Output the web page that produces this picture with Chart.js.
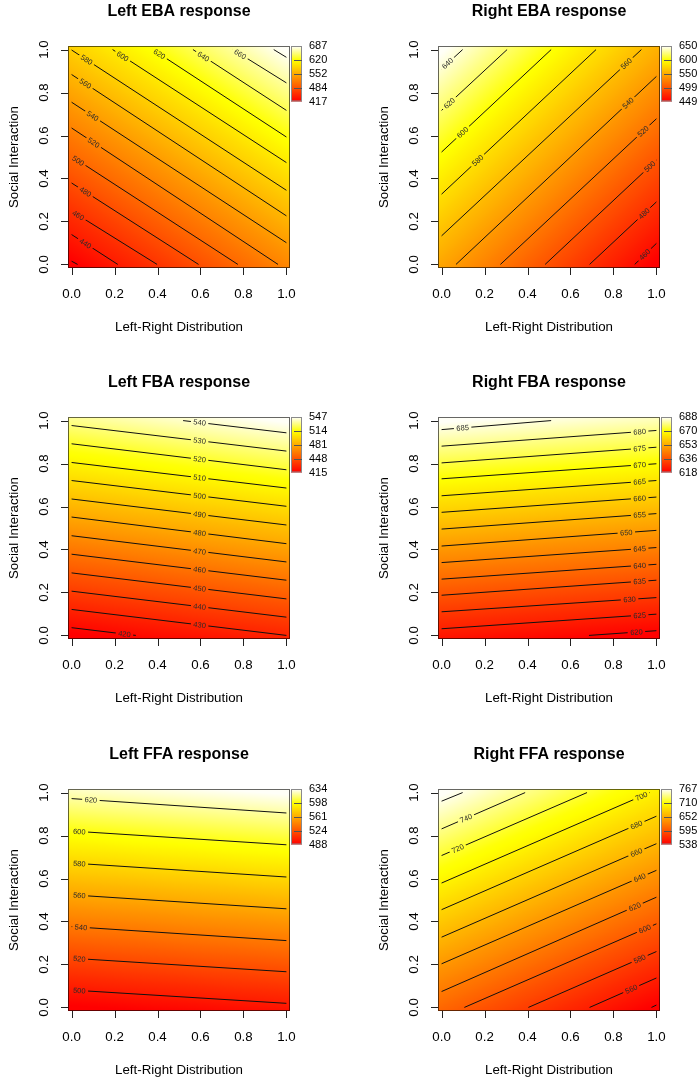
<!DOCTYPE html>
<html>
<head>
<meta charset="utf-8">
<script src="https://cdn.jsdelivr.net/npm/chart.js@4.4.0/dist/chart.umd.min.js"></script>
<style>
  html, body { margin: 0; padding: 0; background: #fff; }
  body { width: 700px; height: 1079px; position: relative; overflow: hidden; }
  canvas { position: absolute; }
</style>
</head>
<body>
<script>
const panelTitles = ['Left EBA response', 'Right EBA response', 'Left FBA response',
                     'Right FBA response', 'Left FFA response', 'Right FFA response']
const xTitle = 'Left-Right Distribution'
const yTitle = 'Social Interaction'
const axisTicks = [0, 0.2, 0.4, 0.6, 0.8, 1]
const axisTickLabels = ['0.0', '0.2', '0.4', '0.6', '0.8', '1.0']

// response at the corners (0,0), (1,0), (0,1), (1,1)
const leftEbaCorners = [417, 524, 580, 687]
const leftEbaKey = [417, 484, 552, 620, 687]
const leftEbaLevels = [420, 440, 460, 480, 500, 520, 540, 560, 580, 600, 620, 640, 660, 680]
// contour segments: x0, y0, x1, y1
const leftEbaLines = [
  [0, 0.015, 0.028, 0], [0, 0.139, 0.215, 0], [0, 0.248, 0.398, 0], [0, 0.379, 0.591, 0],
  [0, 0.503, 0.774, 0], [0, 0.635, 0.961, 0], [0, 0.755, 1, 0.101], [0, 0.884, 1, 0.226],
  [0, 0.998, 1, 0.345], [0.191, 1, 1, 0.474], [0.378, 1, 1, 0.593], [0.565, 1, 1, 0.717],
  [0.751, 1, 1, 0.845], [0.941, 1, 1, 0.964]
]
const leftEbaLabelAt = [null, 0.064, 0.031, 0.064, 0.031, 0.103, 0.098, 0.064, 0.07, 0.238, 0.409, 0.614, 0.785, null]

const rightEbaCorners = [546, 449, 650, 553]
const rightEbaKey = [449, 499, 550, 600, 650]
const rightEbaLevels = [460, 480, 500, 520, 540, 560, 580, 600, 620, 640]
const rightEbaLines = [
  [0.899, 0, 1, 0.098], [0.689, 0, 1, 0.291], [0.482, 0, 1, 0.485], [0.274, 0, 1, 0.678],
  [0.067, 0, 1, 0.875], [0, 0.133, 0.930, 1], [0, 0.327, 0.719, 1], [0, 0.523, 0.510, 1],
  [0, 0.717, 0.305, 1], [0, 0.910, 0.098, 1]
]
const rightEbaLabelAt = [0.946, 0.942, 0.969, 0.938, 0.868, 0.86, 0.168, 0.098, 0.036, 0.028]

const leftFbaCorners = [415, 430, 532, 547]
const leftFbaKey = [415, 448, 481, 514, 547]
const leftFbaLevels = [420, 430, 440, 450, 460, 470, 480, 490, 500, 510, 520, 530, 540]
const leftFbaLines = [
  [0, 0.036, 0.299, 0], [0, 0.121, 1, 0], [0, 0.206, 1, 0.085], [0, 0.291, 1, 0.170],
  [0, 0.378, 1, 0.257], [0, 0.464, 1, 0.342], [0, 0.551, 1, 0.427], [0, 0.635, 1, 0.514],
  [0, 0.721, 1, 0.601], [0, 0.805, 1, 0.686], [0, 0.892, 1, 0.771], [0, 0.977, 1, 0.858],
  [0.519, 1, 1, 0.943]
]
const leftFbaLabelAt = [0.246, 0.596, 0.596, 0.596, 0.596, 0.596, 0.596, 0.596, 0.596, 0.596, 0.596, 0.596, 0.596]

const rightFbaCorners = [623, 618, 688, 683]
const rightFbaKey = [618, 636, 653, 670, 688]
const rightFbaLevels = [620, 625, 630, 635, 640, 645, 650, 655, 660, 665, 670, 675, 680, 685]
const rightFbaLines = [
  [0.686, 0, 1, 0.022], [0, 0.031, 1, 0.099], [0, 0.110, 1, 0.176], [0, 0.187, 1, 0.257],
  [0, 0.262, 1, 0.331], [0, 0.339, 1, 0.409], [0, 0.416, 1, 0.489], [0, 0.495, 1, 0.567],
  [0, 0.573, 1, 0.644], [0, 0.650, 1, 0.721], [0, 0.729, 1, 0.799], [0, 0.803, 1, 0.876],
  [0, 0.881, 1, 0.954], [0, 0.958, 0.51, 1]
]
const rightFbaLabelAt = [0.907, 0.922, 0.875, 0.922, 0.922, 0.922, 0.86, 0.922, 0.922, 0.922, 0.922, 0.922, 0.922, 0.098]

const leftFfaCorners = [488, 498, 624, 634]
const leftFfaKey = [488, 524, 561, 598, 634]
const leftFfaLevels = [500, 520, 540, 560, 580, 600, 620]
const leftFfaLines = [
  [0, 0.081, 1, 0.019], [0, 0.229, 1, 0.166], [0, 0.376, 1, 0.311], [0, 0.524, 1, 0.459],
  [0, 0.672, 1, 0.607], [0, 0.821, 1, 0.757], [0, 0.972, 1, 0.905]
]
const leftFfaLabelAt = [0.036, 0.036, 0.044, 0.036, 0.036, 0.036, 0.09]

const rightFfaCorners = [608, 538, 767, 698]
const rightFfaKey = [538, 595, 652, 710, 767]
const rightFfaLevels = [540, 560, 580, 600, 620, 640, 660, 680, 700, 720, 740, 760]
const rightFfaLines = [
  [0.977, 0, 1, 0.011], [0.689, 0, 1, 0.137], [0.404, 0, 1, 0.260], [0.106, 0, 1, 0.389],
  [0, 0.074, 1, 0.513], [0, 0.203, 1, 0.638], [0, 0.327, 1, 0.762], [0, 0.455, 1, 0.890],
  [0, 0.579, 0.969, 1], [0, 0.707, 0.677, 1], [0, 0.831, 0.389, 1], [0, 0.960, 0.098, 1]
]
const rightFfaLabelAt = [null, 0.883, 0.922, 0.946, 0.899, 0.922, 0.907, 0.907, 0.93, 0.075, 0.114, null]

const fontFamily = '"Liberation Sans", Arial, Helvetica, sans-serif'

const panels = [
  { title: panelTitles[0], corners: leftEbaCorners, key: leftEbaKey, levels: leftEbaLevels, lines: leftEbaLines, labelAt: leftEbaLabelAt, left: 0, top: 0 },
  { title: panelTitles[1], corners: rightEbaCorners, key: rightEbaKey, levels: rightEbaLevels, lines: rightEbaLines, labelAt: rightEbaLabelAt, left: 370, top: 0 },
  { title: panelTitles[2], corners: leftFbaCorners, key: leftFbaKey, levels: leftFbaLevels, lines: leftFbaLines, labelAt: leftFbaLabelAt, left: 0, top: 371 },
  { title: panelTitles[3], corners: rightFbaCorners, key: rightFbaKey, levels: rightFbaLevels, lines: rightFbaLines, labelAt: rightFbaLabelAt, left: 370, top: 371 },
  { title: panelTitles[4], corners: leftFfaCorners, key: leftFfaKey, levels: leftFfaLevels, lines: leftFfaLines, labelAt: leftFfaLabelAt, left: 0, top: 743 },
  { title: panelTitles[5], corners: rightFfaCorners, key: rightFfaKey, levels: rightFfaLevels, lines: rightFfaLines, labelAt: rightFfaLabelAt, left: 370, top: 743 }
]

// same palette as R's heat.colors(n)
function heatColors(n) {
  var j = Math.floor(n / 4), i = n - j, cols = []
  for (var k = 0; k < i; k++) {
    var g = i > 1 ? k / (i - 1) : 0
    cols.push('rgb(255,' + Math.round(g * 255) + ',0)')
  }
  for (var k = 0; k < j; k++) {
    var s = 1 - 1 / (2 * j) - k / j
    cols.push('rgb(255,255,' + Math.round((1 - s) * 255) + ')')
  }
  return cols
}

function addStops(grad, cols) {
  var n = cols.length
  grad.addColorStop(0, cols[0])
  for (var k = 0; k < n; k++) {
    grad.addColorStop((k + 0.5) / n, cols[k])
  }
  grad.addColorStop(1, cols[n - 1])
}

function panelPlugin(p) {
  var cols = heatColors(64)
  var grad = null
  return {
    id: 'panel',
    beforeDatasetsDraw: function (chart) {
      var ctx = chart.ctx, area = chart.chartArea
      var xs = chart.scales.x, ys = chart.scales.y
      var z = p.corners
      var b = ((z[1] - z[0]) + (z[3] - z[2])) / 2
      var c = ((z[2] - z[0]) + (z[3] - z[1])) / 2
      var a = (z[0] + z[1] + z[2] + z[3]) / 4 - b / 2 - c / 2
      var x0 = xs.getPixelForValue(0), y0 = ys.getPixelForValue(0)
      var sx = xs.getPixelForValue(1) - x0, sy = ys.getPixelForValue(1) - y0
      var gx = b / sx, gy = c / sy, g2 = gx * gx + gy * gy
      var zmin = Math.min.apply(null, z), zmax = Math.max.apply(null, z)
      var px0 = x0 + gx * (zmin - a) / g2, py0 = y0 + gy * (zmin - a) / g2
      var px1 = px0 + gx * (zmax - zmin) / g2, py1 = py0 + gy * (zmax - zmin) / g2

      grad = ctx.createLinearGradient(px0, py0, px1, py1)
      addStops(grad, cols)
      ctx.save()
      ctx.fillStyle = grad
      ctx.fillRect(area.left, area.top, area.right - area.left, area.bottom - area.top)

      // colour key
      var kx = area.right + 1, kw = 11, kt = area.top, kb = area.top + 55.5
      var kg = ctx.createLinearGradient(0, kb, 0, kt)
      addStops(kg, cols)
      ctx.fillStyle = kg
      ctx.fillRect(kx, kt, kw, kb - kt)
      ctx.strokeStyle = '#8a8a8a'
      ctx.lineWidth = 1
      ctx.strokeRect(kx + 0.5, kt + 0.5, kw - 1, kb - kt - 1)
      ctx.strokeStyle = '#555'
      ctx.fillStyle = '#000'
      ctx.font = '11px ' + fontFamily
      ctx.textAlign = 'left'
      ctx.textBaseline = 'middle'
      var n = p.key.length
      for (var k = 0; k < n; k++) {
        var ky = kb - k / (n - 1) * (kb - kt)
        if (k > 0 && k < n - 1) {
          ctx.beginPath()
          ctx.moveTo(kx + kw - 8, Math.round(ky) + 0.5)
          ctx.lineTo(kx + kw, Math.round(ky) + 0.5)
          ctx.stroke()
        }
        ctx.fillText(String(p.key[k]), area.right + 19, ky)
      }
      ctx.restore()
    },
    afterDatasetsDraw: function (chart) {
      var ctx = chart.ctx
      var xs = chart.scales.x, ys = chart.scales.y
      ctx.save()
      ctx.font = '7.5px ' + fontFamily
      ctx.textAlign = 'center'
      ctx.textBaseline = 'middle'
      var base = ctx.getTransform()
      for (var i = 0; i < p.levels.length; i++) {
        var at = p.labelAt[i]
        if (at === null) continue
        var s = p.lines[i]
        var t = (at - s[0]) / (s[2] - s[0])
        var px = xs.getPixelForValue(at), py = ys.getPixelForValue(s[1] + t * (s[3] - s[1]))
        var ang = Math.atan2(ys.getPixelForValue(s[3]) - ys.getPixelForValue(s[1]),
                             xs.getPixelForValue(s[2]) - xs.getPixelForValue(s[0]))
        var txt = String(p.levels[i])
        var w = ctx.measureText(txt).width
        ctx.translate(px, py)
        ctx.rotate(ang)
        ctx.beginPath()
        ctx.rect(-w / 2 - 2.5, -4, w + 5, 8)
        ctx.setTransform(base)
        ctx.fillStyle = grad
        ctx.fill()
        ctx.translate(px, py)
        ctx.rotate(ang)
        ctx.fillStyle = '#2a2a2a'
        ctx.fillText(txt, 0, 0.5)
        ctx.setTransform(base)
      }
      ctx.restore()
    },
    afterDraw: function (chart) {
      var ctx = chart.ctx, area = chart.chartArea
      var xs = chart.scales.x, ys = chart.scales.y
      ctx.save()
      ctx.strokeStyle = 'rgba(0,0,0,0.6)'
      ctx.lineWidth = 1
      ctx.strokeRect(area.left + 0.5, area.top + 0.5, area.right - area.left - 1, area.bottom - area.top - 1)

      ctx.strokeStyle = '#222'
      ctx.fillStyle = '#000'
      ctx.font = '13.3px ' + fontFamily
      for (var i = 0; i < axisTicks.length; i++) {
        var tx = Math.round(xs.getPixelForValue(axisTicks[i])) + 0.5
        ctx.beginPath()
        ctx.moveTo(tx, area.bottom)
        ctx.lineTo(tx, area.bottom + 7)
        ctx.stroke()
        ctx.textAlign = 'center'
        ctx.textBaseline = 'alphabetic'
        ctx.fillText(axisTickLabels[i], xs.getPixelForValue(axisTicks[i]), area.bottom + 30)

        var ty = Math.round(ys.getPixelForValue(axisTicks[i])) + 0.5
        ctx.beginPath()
        ctx.moveTo(area.left, ty)
        ctx.lineTo(area.left - 7, ty)
        ctx.stroke()
        ctx.save()
        ctx.translate(area.left - 20.5, ys.getPixelForValue(axisTicks[i]))
        ctx.rotate(-Math.PI / 2)
        ctx.fillText(axisTickLabels[i], 0, 0)
        ctx.restore()
      }

      var cx = (area.left + area.right) / 2, cy = (area.top + area.bottom) / 2
      ctx.textAlign = 'center'
      ctx.textBaseline = 'alphabetic'
      ctx.fillText(xTitle, cx, area.bottom + 62.5)
      ctx.save()
      ctx.translate(area.left - 50, cy)
      ctx.rotate(-Math.PI / 2)
      ctx.fillText(yTitle, 0, 0)
      ctx.restore()

      ctx.font = 'bold 16px ' + fontFamily
      ctx.fillText(p.title, cx, area.top - 30.5)
      ctx.restore()
    }
  }
}

function makePanel(p) {
  var canvas = document.createElement('canvas')
  var w = p.left === 0 ? 350 : 330
  var h = p.top === 743 ? 336 : 371
  canvas.width = w
  canvas.height = h
  canvas.style.left = p.left + 'px'
  canvas.style.top = p.top + 'px'
  document.body.appendChild(canvas)

  var datasets = p.levels.map(function (lev, i) {
    var s = p.lines[i]
    return {
      label: String(lev),
      data: [{ x: s[0], y: s[1] }, { x: s[2], y: s[3] }],
      showLine: true,
      borderColor: '#111',
      borderWidth: 1,
      pointRadius: 0,
      fill: false
    }
  })

  return new Chart(canvas, {
    type: 'scatter',
    data: { datasets: datasets },
    options: {
      responsive: false,
      animation: false,
      devicePixelRatio: 1,
      events: [],
      layout: { padding: { left: 68, top: 46, right: w - 290, bottom: h - 268 } },
      scales: {
        x: { type: 'linear', min: -1 / 60, max: 1 + 1 / 60, display: false },
        y: { type: 'linear', min: -1 / 60, max: 1 + 1 / 60, display: false }
      },
      plugins: { legend: { display: false }, tooltip: { enabled: false } }
    },
    plugins: [panelPlugin(p)]
  })
}

panels.forEach(makePanel)
</script>
</body>
</html>
